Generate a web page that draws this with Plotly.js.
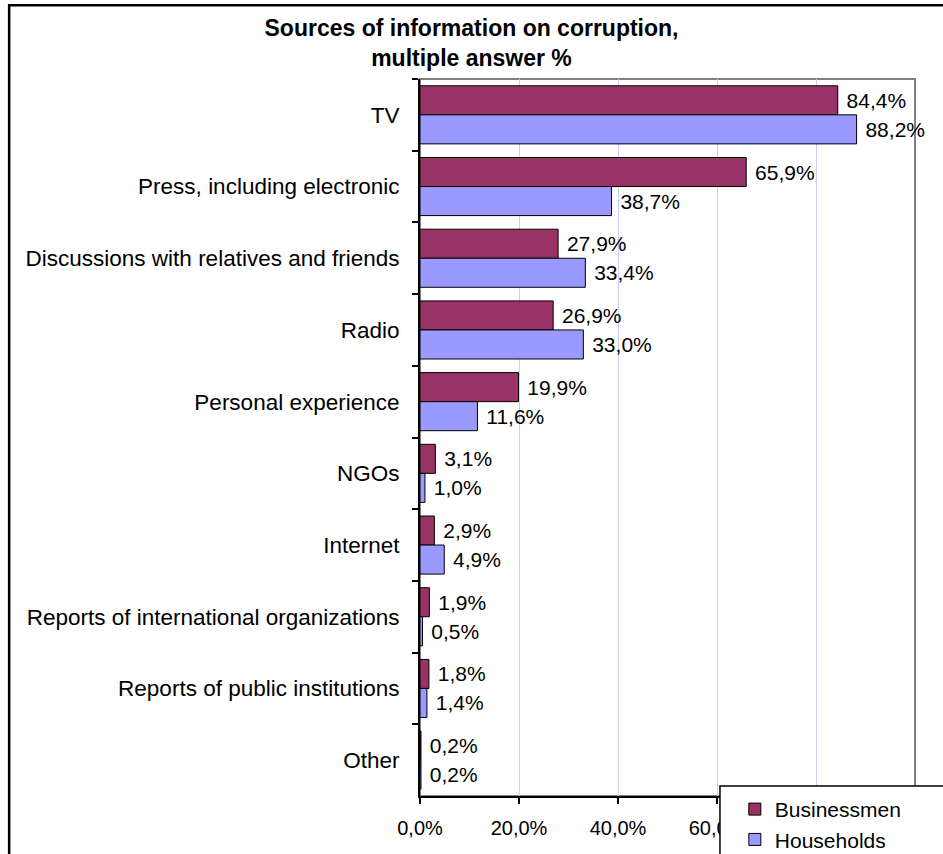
<!DOCTYPE html>
<html>
<head>
<meta charset="utf-8">
<script src="https://cdn.plot.ly/plotly-3.0.1.min.js"></script>
<style>html,body{margin:0;padding:0;background:#fff;overflow:hidden}#chart{width:943px;height:854px}</style>
</head>
<body>
<div id="chart"></div>
<script>
var categories = ["TV", "Press, including electronic", "Discussions with relatives and friends", "Radio", "Personal experience", "NGOs", "Internet", "Reports of international organizations", "Reports of public institutions", "Other"];
var businessmen = [84.4, 65.9, 27.9, 26.9, 19.9, 3.1, 2.9, 1.9, 1.8, 0.2];
var households = [88.2, 38.7, 33.4, 33.0, 11.6, 1.0, 4.9, 0.5, 1.4, 0.2];
var xTicks = [0, 20, 40, 60, 80, 100];
var xTickLabels = ["0,0%", "20,0%", "40,0%", "60,0%", "80,0%", "100,0%"];
var seriesNames = ["Businessmen", "Households"];

var FONT = "Liberation Sans, Arial, sans-serif";

function barTrace(name, values, color) {
  return {
    type: "bar",
    orientation: "h",
    name: name,
    y: categories,
    x: values,
    marker: {color: color, line: {color: "#000000", width: 1}},
    texttemplate: "\u00a0%{x:.1f}%",
    textposition: "outside",
    constraintext: "none",
    cliponaxis: false,
    textfont: {family: FONT, size: 21, color: "#000000"},
    hoverinfo: "skip"
  };
}

var data = [
  barTrace(seriesNames[0], businessmen, "#993366"),
  barTrace(seriesNames[1], households, "#9999FF")
];

var layout = {
  width: 943,
  height: 854,
  margin: {l: 420, r: 28, t: 79, b: 58, pad: 0, autoexpand: false},
  paper_bgcolor: "#ffffff",
  plot_bgcolor: "#ffffff",
  separators: ", ",
  font: {family: FONT, size: 20, color: "#000000"},
  title: {
    text: "<b>Sources of information on corruption,<br>multiple answer %</b>",
    font: {family: FONT, size: 23, color: "#000000"},
    x: 0.5, xref: "container", xanchor: "center",
    y: 0.958, yref: "container", yanchor: "middle"
  },
  barmode: "group",
  bargap: 0.19,
  bargroupgap: 0,
  showlegend: true,
  legend: {
    x: 0.636, y: 0.0098, xanchor: "left", yanchor: "top",
    xref: "paper", yref: "paper",
    bgcolor: "rgba(0,0,0,0)", borderwidth: 0,
    font: {family: FONT, size: 21, color: "#000000"},
    traceorder: "normal"
  },
  xaxis: {
    range: [0, 100],
    automargin: false,
    tickvals: xTicks,
    ticktext: xTickLabels,
    showgrid: true,
    gridcolor: "#CCCCFF",
    gridwidth: 1,
    zeroline: false,
    showline: true,
    linecolor: "#000000",
    linewidth: 2,
    ticks: "outside",
    ticklen: 6,
    tickcolor: "#000000",
    tickwidth: 2,
    ticklabelstandoff: 7,
    tickfont: {family: FONT, size: 20, color: "#000000"},
    fixedrange: true
  },
  yaxis: {
    type: "category",
    autorange: "reversed",
    automargin: false,
    showgrid: false,
    zeroline: false,
    showline: true,
    linecolor: "#000000",
    linewidth: 2,
    ticks: "outside",
    tickson: "boundaries",
    ticklen: 6,
    tickcolor: "#000000",
    tickwidth: 2,
    ticklabelstandoff: 14,
    tickfont: {family: FONT, size: 22.5, color: "#000000"},
    fixedrange: true
  },
  shapes: [
    {type: "rect", xref: "paper", yref: "paper", x0: 0, x1: 1, y0: 0, y1: 1,
     line: {color: "#808080", width: 2}, layer: "below"},
    {type: "rect", xref: "paper", yref: "paper", x0: 0.606, x1: 1.2, y0: -0.3, y1: 0.014,
     fillcolor: "#ffffff", line: {color: "#000000", width: 1.5}, layer: "above"},
    {type: "rect", xref: "paper", yref: "paper", x0: -0.830, x1: 1.2, y0: -0.3, y1: 1.103,
     line: {color: "#000000", width: 2.5}, layer: "above"}
  ]
};

Plotly.newPlot("chart", data, layout, {displayModeBar: false, staticPlot: true});
</script>
</body>
</html>
